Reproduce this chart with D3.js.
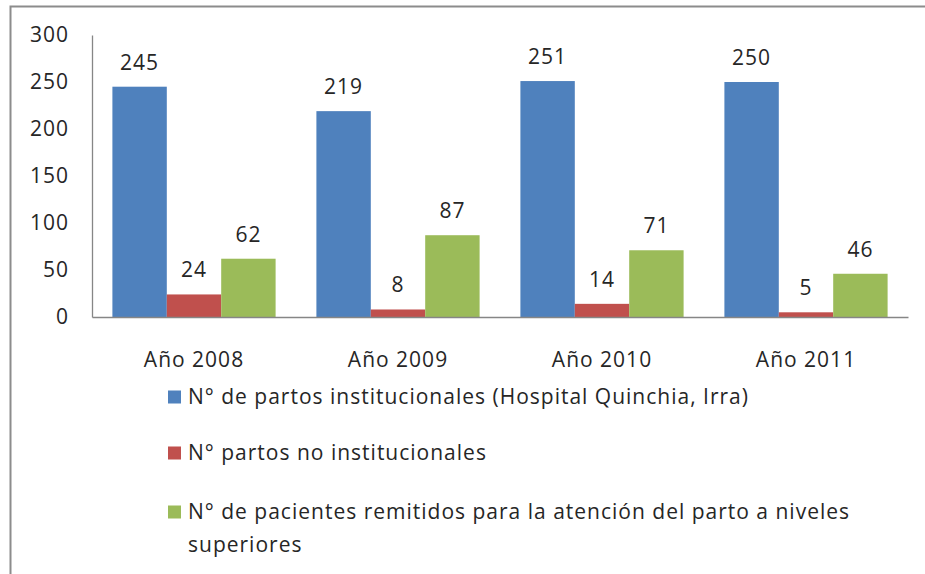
<!DOCTYPE html>
<html>
<head>
<meta charset="utf-8">
<script src="https://cdn.jsdelivr.net/npm/d3@7"></script>
<style>
  html, body { margin: 0; padding: 0; background: #fff; }
  svg { display: block; font-family: "Open Sans", "Noto Sans", sans-serif; }
  svg text { letter-spacing: 1px; }
</style>
</head>
<body>
<div id="chart"></div>
<script>
const YEARS = ["Año 2008", "Año 2009", "Año 2010", "Año 2011"];
const INSTITUCIONALES = [245, 219, 251, 250];
const NO_INSTITUCIONALES = [24, 8, 14, 5];
const REMITIDOS = [62, 87, 71, 46];
const Y_TICKS = [0, 50, 100, 150, 200, 250, 300];

const SERIES = [
  { name: "N° de partos institucionales (Hospital Quinchia, Irra)", values: INSTITUCIONALES, color: "#4F81BD" },
  { name: "N° partos no institucionales", values: NO_INSTITUCIONALES, color: "#C0504D" },
  { name: ["N° de pacientes remitidos para la atención del parto a niveles", "superiores"], values: REMITIDOS, color: "#9BBB59" }
];

const width = 925, height = 574;
const m = { top: 35, right: 17, bottom: 256, left: 92 };
const textColor = "#262626";

const svg = d3.select("#chart").append("svg")
  .attr("width", width)
  .attr("height", height)
  .attr("viewBox", [0, 0, width, height]);

// outer frame (only left and top edges show)
svg.append("path")
  .attr("d", `M10.5,${height} V6.5 H${width}`)
  .attr("fill", "none")
  .attr("stroke", "#8c8c8c")
  .attr("stroke-width", 2);

const x = d3.scaleBand()
  .domain(YEARS)
  .range([m.left, width - m.right])
  .paddingInner(0.2)
  .paddingOuter(0.1);

const xs = d3.scaleBand()
  .domain(d3.range(SERIES.length))
  .range([0, x.bandwidth()]);

const y = d3.scaleLinear()
  .domain([0, 300])
  .range([height - m.bottom - 1, m.top]);

// y axis
const yAxis = svg.append("g")
  .attr("transform", `translate(${m.left},0)`)
  .call(d3.axisLeft(y).tickValues(Y_TICKS).tickSize(0).tickPadding(23));
yAxis.select(".domain").attr("stroke", "#868686").attr("stroke-width", 1.3);
yAxis.selectAll("text")
  .attr("font-size", 21)
  .attr("fill", textColor)
  .attr("font-family", "Open Sans, sans-serif");

// bars
const groups = svg.append("g");
SERIES.forEach((s, i) => {
  groups.selectAll(null)
    .data(s.values)
    .enter()
    .append("rect")
    .attr("x", (d, j) => x(YEARS[j]) + xs(i))
    .attr("width", xs.bandwidth())
    .attr("y", d => y(d))
    .attr("height", d => y(0) - y(d))
    .attr("fill", s.color);

  groups.selectAll(null)
    .data(s.values)
    .enter()
    .append("text")
    .attr("x", (d, j) => x(YEARS[j]) + xs(i) + xs.bandwidth() / 2)
    .attr("y", d => y(d) - 17)
    .attr("text-anchor", "middle")
    .attr("font-size", 21)
    .attr("fill", textColor)
    .text(d => d);
});

// x axis
const xAxis = svg.append("g")
  .attr("transform", `translate(0,${y(0)})`)
  .call(d3.axisBottom(x).tickSize(0).tickPadding(35).tickSizeOuter(0));
xAxis.select(".domain").attr("stroke", "#868686").attr("stroke-width", 1.3);
xAxis.selectAll("text")
  .attr("font-size", 21)
  .attr("fill", textColor)
  .attr("font-family", "Open Sans, sans-serif");

// legend
const legend = svg.append("g").attr("transform", "translate(168,0)");
const legendY = [397, 453, 512];
SERIES.forEach((s, i) => {
  legend.append("rect")
    .attr("x", 0)
    .attr("y", legendY[i] - 6.5)
    .attr("width", 13)
    .attr("height", 13)
    .attr("fill", s.color);
  const lines = Array.isArray(s.name) ? s.name : [s.name];
  const t = legend.append("text")
    .attr("x", 20)
    .attr("y", legendY[i] + 7)
    .attr("font-size", 21)
    .attr("fill", textColor);
  lines.forEach((ln, k) => {
    t.append("tspan")
      .attr("x", 20)
      .attr("dy", k === 0 ? 0 : 33)
      .text(ln);
  });
});
</script>
</body>
</html>
